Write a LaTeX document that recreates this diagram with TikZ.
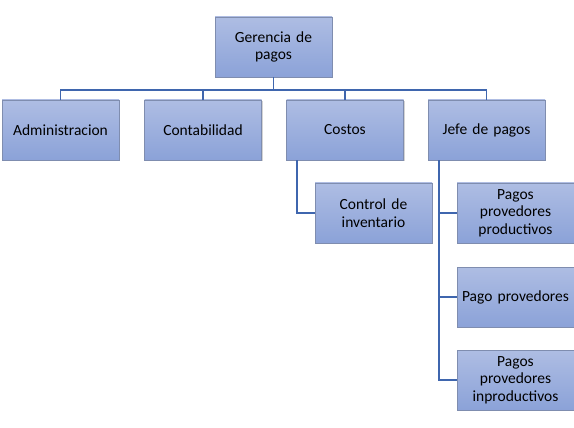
\documentclass[tikz,border=0pt]{standalone}
\usepackage{fontspec}
\setmainfont{Carlito}
\usetikzlibrary{shadows}
\definecolor{boxtop}{HTML}{AEBDE3}
\definecolor{boxbot}{HTML}{8BA2D8}
\definecolor{boxline}{HTML}{7F8DAF}
\definecolor{linkblue}{HTML}{3F66AE}

\begin{document}
\begin{tikzpicture}[x=1pt,y=-1pt,
    unit/.style={draw=boxline,line width=0.6pt,top color=boxtop,bottom color=boxbot,
        minimum width=117pt,minimum height=60pt,inner sep=2pt,align=center,
        text width=113pt,font=\fontsize{15.5}{17.5}\selectfont,
        drop shadow={opacity=0.35,shadow xshift=1pt,shadow yshift=-1pt}},
    link/.style={draw=linkblue,line width=1.1pt},
]
    \useasboundingbox (0,0) rectangle (574,428);

    \node [unit] (ger) at (273.5,47) {Gerencia de\\pagos};

    \node [unit] (adm) at (60.5,130) {Administracion};
    \node [unit] (con) at (203,130) {Contabilidad};
    \node [unit] (cos) at (345,130) {Costos};
    \node [unit] (jef) at (486.5,130) {Jefe de pagos};

    \node [unit] (inv) at (373.5,213) {Control de\\inventario};

    \node [unit] (pp) at (515.5,213) {Pagos\\provedores\\productivos};
    \node [unit] (pv) at (515.5,297) {Pago provedores};
    \node [unit] (pi) at (515.5,380) {Pagos\\provedores\\inproductivos};

    % top level
    \coordinate (bar) at (273.5,90);
    \draw [link] (ger.south) -- (bar);
    \foreach \n in {adm,con,cos,jef}
        \draw [link] (bar) -| (\n.north);

    % Costos
    \draw [link] ([xshift=-48pt]cos.south) |- (inv.west);

    % Jefe de pagos
    \foreach \n in {pp,pv,pi}
        \draw [link] ([xshift=-47.5pt]jef.south) |- (\n.west);

\end{tikzpicture}
\end{document}
